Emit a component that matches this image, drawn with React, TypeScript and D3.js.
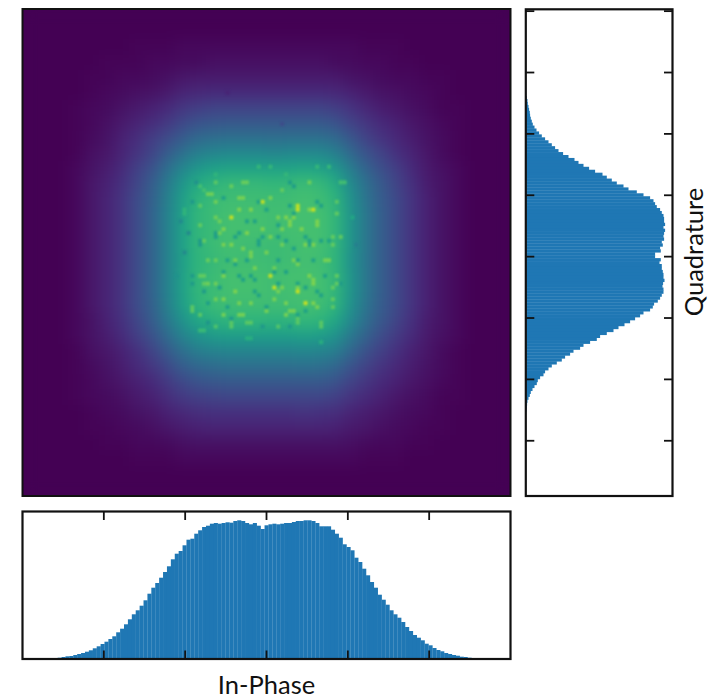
import React from "react";
import * as d3 from "d3";

// In-Phase marginal histogram (125 bins over -3..3), left to right
const inPhaseCounts = [
  0,0,0,0,0,0.2,0.3,0.7,1,1.3,2,2.7,3,4,5,6,7.3,8.7,10.7,12.7,15,17.3,20,22.7,26.7,
  30.3,34.7,39.7,44.7,48.7,53.3,58.7,65.3,71.3,76,81.3,87,92.7,99.7,105.3,108,113.7,119.3,120.3,125.3,
  128.7,132,133.3,135.3,136,135.3,136,136.7,136.3,138,138.7,138,136,134.7,136,133.3,130,133.7,134.7,135.3,
  134.7,135.3,136,136,137,138,138,138.7,138.7,138,136,132.7,132.7,132.7,129.3,125.3,121.3,114.7,112,108.7,
  101.3,97,90.3,83.7,77,71.3,64.3,59.3,54.3,48.7,44.7,41.3,37,32,28,24,21.3,18.7,15.3,13.7,
  11,9,7.7,6,5,4,3.3,2.3,2,1.3,1,0.7,0.3,0.2,0,0,0,0,0,0,
];

// Quadrature marginal histogram (125 bins over 3..-3), top to bottom
const quadratureCounts = [
  0,0,0,0,0,0,0,0.3,1,1.7,2,2.7,3.3,4,4.3,5,6,7,8.7,10.7,13.3,16,19.3,22.7,26,
  29.3,32.7,37.3,42.7,48.7,52.7,57.7,63.3,69.3,76.7,81,86,91,97.7,102.7,111,117.7,124.3,127.7,129.3,
  131,134.3,136,137.7,138.3,138.3,139.3,137.7,139.3,138.3,137.7,138.3,136,137,134.3,135,129.3,129.3,135,133.7,
  136,136,137,137.7,137.7,138.7,137.3,136.7,137.7,137.7,136,134.3,132,128.3,127,124.3,117.7,114.3,109.3,104.3,
  98.7,92.7,87.7,81,74.3,71,64.3,57.7,54.3,47.7,44.3,39.3,36,31,26,22.7,19.3,17.7,14.3,12,
  11,8.7,6.7,5,4,2.7,1.7,1.3,1,0.7,0.3,0.1,0,0,0,0,0,0,0,0,
];

// 2D histogram density read on a coarse 32x32 lattice, in percent of the colour range
const densityGrid: number[][] = [
  [0,0,0,0,0,0,0,0,0,0,0,0,0,0,0,0,0,0,0,0,0,0,0,0,0,0,0,0,0,0,0,0],
  [0,0,0,0,0,0,0,0,0,0,0,0,0,0,0,0,0,0,0,0,0,0,0,0,0,0,0,0,0,0,0,0],
  [0,0,0,0,0,0,0,1,1,1,2,2,2,2,2,2,2,2,2,2,2,2,1,1,1,0,0,0,0,0,0,0],
  [0,0,0,0,0,1,1,1,2,2,3,3,4,4,4,4,4,4,4,4,3,3,2,2,1,1,0,0,0,0,0,0],
  [0,0,0,0,1,1,2,2,3,4,6,7,7,7,7,7,7,7,7,7,7,5,4,3,2,2,1,1,0,0,0,0],
  [0,0,0,0,1,2,3,4,5,7,10,11,12,12,12,12,12,12,12,12,11,9,7,5,4,3,2,1,0,0,0,0],
  [0,0,0,1,2,3,5,7,9,12,16,18,20,20,20,20,20,20,20,20,18,15,11,8,6,4,3,1,1,0,0,0],
  [0,0,0,1,2,4,7,10,13,17,22,26,27,28,28,28,28,28,28,28,26,20,16,12,9,6,4,2,1,0,0,0],
  [0,0,0,1,3,5,9,13,18,23,29,34,36,37,37,37,36,37,37,37,34,27,20,15,11,8,5,3,1,0,0,0],
  [0,0,0,1,4,6,10,15,21,29,37,43,46,47,47,47,46,47,47,47,43,34,26,20,14,10,6,3,1,0,0,0],
  [0,0,0,2,5,8,12,19,26,36,46,53,57,58,58,58,58,58,59,58,53,42,32,24,18,12,7,4,2,0,0,0],
  [0,0,0,2,6,9,14,21,30,41,53,61,65,67,67,67,66,67,68,67,61,48,37,28,20,14,8,5,2,0,0,0],
  [0,0,0,2,6,10,15,23,31,43,56,65,68,69,69,69,69,69,70,69,65,51,39,29,22,15,9,5,2,0,0,0],
  [0,0,0,2,6,10,15,23,32,44,57,66,68,70,70,70,69,70,70,70,66,52,40,30,22,15,9,5,2,0,0,0],
  [0,0,0,2,6,10,15,23,32,44,57,66,68,70,70,70,69,70,70,70,66,52,40,30,22,15,9,5,2,0,0,0],
  [0,0,0,2,6,10,15,23,32,44,57,66,68,70,69,69,68,69,70,70,66,52,40,30,22,15,9,5,2,0,0,0],
  [0,0,0,2,6,10,15,23,32,44,56,65,67,69,69,69,68,69,70,69,65,51,40,30,22,15,9,5,2,0,0,0],
  [0,0,0,2,6,10,15,23,32,44,57,66,68,70,70,70,69,70,70,70,66,52,40,30,22,15,9,5,2,0,0,0],
  [0,0,0,2,6,10,15,23,32,44,57,66,68,70,70,70,69,70,70,70,66,52,40,30,22,15,9,5,2,0,0,0],
  [0,0,0,2,6,10,15,23,31,43,56,65,68,69,69,69,69,69,70,69,65,51,39,29,22,15,9,5,2,0,0,0],
  [0,0,0,2,5,9,14,21,29,40,51,59,63,65,65,65,64,65,66,65,59,47,36,27,20,14,8,5,2,0,0,0],
  [0,0,0,2,5,8,12,18,25,34,44,51,54,55,55,55,55,55,56,55,51,40,31,23,17,12,7,4,2,0,0,0],
  [0,0,0,1,4,6,9,14,20,28,36,42,44,45,45,45,45,45,46,45,42,33,25,19,14,9,6,3,1,0,0,0],
  [0,0,0,1,3,5,8,12,16,22,29,33,35,36,36,36,36,36,37,36,33,26,20,15,11,8,5,3,1,0,0,0],
  [0,0,0,1,2,4,6,9,12,17,22,26,27,28,28,28,28,28,28,28,26,20,16,12,9,6,4,2,1,0,0,0],
  [0,0,0,1,2,3,4,7,9,13,17,19,20,21,21,21,21,21,21,21,19,15,12,9,6,4,3,1,1,0,0,0],
  [0,0,0,0,1,2,3,5,6,9,11,13,14,14,14,14,14,14,15,14,13,10,8,6,4,3,2,1,0,0,0,0],
  [0,0,0,0,1,1,2,3,4,6,8,9,10,10,10,10,10,10,10,10,9,7,6,4,3,2,1,1,0,0,0,0],
  [0,0,0,0,0,1,1,2,2,3,4,5,5,5,5,5,5,5,5,5,5,4,3,2,2,1,1,0,0,0,0,0],
  [0,0,0,0,0,0,0,1,1,1,2,2,2,2,2,2,2,2,2,2,2,2,1,1,1,0,0,0,0,0,0,0],
  [0,0,0,0,0,0,0,0,0,0,0,0,0,0,0,0,0,0,0,0,0,0,0,0,0,0,0,0,0,0,0,0],
  [0,0,0,0,0,0,0,0,0,0,0,0,0,0,0,0,0,0,0,0,0,0,0,0,0,0,0,0,0,0,0,0],
];

// Individual cells of the fine 125x125 histogram seen to stand out: [column, row]
const brightestCells: [number, number][] = [
  [61,49],[70,50],[70,51],[63,68],[64,71],[70,72],[72,75],[74,51],[53,53],
];
const brightCells: [number, number][] = [
  [56,48],[51,56],[50,54],[69,77],[74,69],[70,79],[51,74],[55,75],[54,72],[46,70],[46,68],[39,68],[41,51],[49,49],
  [58,62],[58,63],[75,55],[69,53],[68,54],[76,85],[58,84],[46,82],[76,80],[75,76],[80,70],[79,74],[78,64],[79,60],
  [82,44],[78,40],[75,40],[56,44],[49,42],[47,47],[84,53],[43,77],[49,81],[53,80],[65,72],[64,74],[67,78],[58,80],
  [49,53],[50,57],[45,45],[48,47],[58,51],[49,44],[51,60],[57,44],[53,45],[55,51],[63,48],[73,51],[68,55],[66,46],
  [65,53],[63,58],[73,44],[66,60],[79,58],[49,74],[54,64],[51,68],[45,68],[56,78],[47,64],[51,78],[57,84],[47,70],
  [62,77],[70,71],[66,71],[73,68],[68,77],[76,81],[77,64],[64,66],[74,70],[67,75],[70,65],[79,76],[61,56],[72,60],
  [46,46],[67,42],[81,44],[80,49],[55,48],[41,52],[45,50],[67,53],[75,54],[80,52],[45,55],[57,57],[71,56],[46,59],
  [53,60],[74,60],[81,58],[49,64],[69,64],[80,68],[79,71],[43,76],[58,75],[74,75],[45,78],[55,78],[70,80],[45,82],
  [53,81],[57,80],[65,81],[63,40],[60,40],[49,70],[59,66],[62,62],[66,56],[56,61],
];
const darkCells: [number, number][] = [
  [49,58],[41,62],[51,60],[56,69],[73,59],[66,29],[52,21],[64,67],[61,58],[70,64],[54,65],[59,69],[45,59],[68,44],
  [75,49],[65,55],[69,61],[76,59],[51,67],[59,54],[43,49],[57,54],[49,57],[54,58],[45,60],[42,57],[60,59],[69,52],
  [80,49],[72,58],[76,50],[69,45],[65,58],[62,51],[73,60],[43,70],[50,71],[58,68],[52,76],[46,72],[55,68],[47,80],
  [60,73],[70,70],[65,70],[76,73],[67,67],[72,71],[81,70],[70,78],[77,68],
  [44,44],[51,48],[60,49],[68,50],[40,54],[55,57],[60,60],[67,59],[78,59],[85,60],[52,64],[57,64],[65,64],[74,64],
  [43,68],[59,72],[75,72],[47,75],[62,76],[72,77],[53,79],[68,81],[61,81],
];

const iTicks = [-2, -1, 0, 1, 2];
const qTicks = [-3, -2, -1, 0, 1, 2, 3, 4];
const binEdges = d3.range(126).map((i) => -3 + (i * 6) / 125);
const gridEdges = d3.range(33).map((i) => -3 + (i * 6) / 32);

const FRAME = "#111";
const BAR = "#1f77b4";
const FONT = "Lato, 'Open Sans', sans-serif";

export default function App() {
  const main = { x0: 22.5, x1: 510.5, y0: 9, y1: 496 };
  const bot = { x0: 22.5, x1: 510.5, y0: 511.5, y1: 659 };
  const side = { x0: 525.8, x1: 672.5, y0: 9.3, y1: 496 };

  const xHeat = d3.scaleLinear().domain([-3, 3]).range([main.x0, main.x1]);
  const yHeat = d3.scaleLinear().domain([3, -3]).range([main.y0, main.y1]);
  const xBot = d3.scaleLinear().domain([-3, 3]).range([bot.x0, bot.x1]);
  const yBot = d3.scaleLinear().domain([0, 147.5]).range([bot.y1, bot.y0]);
  const ySide = d3.scaleLinear().domain([4.03, -3.9]).range([side.y0, side.y1]);
  const xSide = d3.scaleLinear().domain([0, 146.7]).range([side.x0, side.x1]);
  const color = d3.scaleSequential(d3.interpolateViridis).domain([0, 100]);

  const baseAt = (c: number, r: number) => densityGrid[Math.floor((r * 32) / 125)][Math.floor((c * 32) / 125)];
  const fineCell = (c: number, r: number, ratio: number, i: number) => (
    <rect
      key={`${ratio}-${i}`}
      x={xHeat(binEdges[c])}
      y={yHeat(-binEdges[r])}
      width={xHeat(binEdges[c + 1]) - xHeat(binEdges[c])}
      height={yHeat(-binEdges[r + 1]) - yHeat(-binEdges[r])}
      fill={color(baseAt(c, r) * ratio)}
    />
  );

  return (
    <svg
      width={715}
      height={699}
      viewBox="0 0 715 699"
      style={{ position: "absolute", left: 0, top: 0, display: "block", background: "#fff" }}
    >
      <defs>
        <clipPath id="heatClip">
          <rect x={main.x0} y={main.y0} width={main.x1 - main.x0} height={main.y1 - main.y0} />
        </clipPath>
        <filter id="smooth" x="-5%" y="-5%" width="110%" height="110%" colorInterpolationFilters="sRGB">
          <feGaussianBlur stdDeviation={7} />
        </filter>
        <filter id="soft" x="-5%" y="-5%" width="110%" height="110%" colorInterpolationFilters="sRGB">
          <feGaussianBlur stdDeviation={0.9} />
        </filter>
      </defs>

      <g clipPath="url(#heatClip)">
        <rect x={main.x0} y={main.y0} width={main.x1 - main.x0} height={main.y1 - main.y0} fill={color(0)} />
        <g filter="url(#smooth)" shapeRendering="crispEdges">
          {densityGrid.map((row, r) =>
            row.map((v, c) => (
              <rect
                key={`${c}-${r}`}
                x={xHeat(gridEdges[c])}
                y={yHeat(-gridEdges[r])}
                width={xHeat(gridEdges[c + 1]) - xHeat(gridEdges[c]) + 0.5}
                height={yHeat(-gridEdges[r + 1]) - yHeat(-gridEdges[r]) + 0.5}
                fill={color(v)}
              />
            ))
          )}
        </g>
        <g filter="url(#soft)">
          {darkCells.map(([c, r], i) => fineCell(c, r, 0.82, i))}
          {brightCells.map(([c, r], i) => fineCell(c, r, 1.15, i))}
          {brightestCells.map(([c, r], i) => fineCell(c, r, 1.32, i))}
        </g>
      </g>
      <rect x={main.x0} y={main.y0} width={main.x1 - main.x0} height={main.y1 - main.y0} fill="none" stroke={FRAME} strokeWidth={2} />

      {/* In-Phase histogram */}
      {inPhaseCounts.map((v, i) => (
        <rect key={i} x={xBot(binEdges[i])} y={yBot(v)} width={xBot(binEdges[i + 1]) - xBot(binEdges[i]) + 0.2} height={yBot(0) - yBot(v)} fill={BAR} />
      ))}
      <rect x={bot.x0} y={bot.y0} width={bot.x1 - bot.x0} height={bot.y1 - bot.y0} fill="none" stroke={FRAME} strokeWidth={2.2} />
      {iTicks.map((t) => (
        <g key={t} stroke={FRAME} strokeWidth={1.8}>
          <line x1={xBot(t)} x2={xBot(t)} y1={bot.y0} y2={bot.y0 + 8.5} />
          <line x1={xBot(t)} x2={xBot(t)} y1={bot.y1} y2={bot.y1 - 8.5} />
        </g>
      ))}

      {/* Quadrature histogram */}
      {quadratureCounts.map((v, i) => {
        const top = ySide(-binEdges[i]);
        const bottom = ySide(-binEdges[i + 1]);
        return <rect key={i} x={xSide(0)} y={top} width={xSide(v) - xSide(0)} height={bottom - top + 0.35} fill={BAR} />;
      })}
      <rect x={side.x0} y={side.y0} width={side.x1 - side.x0} height={side.y1 - side.y0} fill="none" stroke={FRAME} strokeWidth={2.2} />
      {qTicks.map((t) => (
        <g key={t} stroke={FRAME} strokeWidth={1.8}>
          <line x1={side.x0} x2={side.x0 + 8.5} y1={ySide(t)} y2={ySide(t)} />
          <line x1={side.x1} x2={side.x1 - 8.5} y1={ySide(t)} y2={ySide(t)} />
        </g>
      ))}

      <text x={266.5} y={693.5} textAnchor="middle" fontFamily={FONT} fontSize={25.5} fill="#111">In-Phase</text>
      <text transform="translate(703,252) rotate(-90)" textAnchor="middle" fontFamily={FONT} fontSize={25.5} fill="#111">Quadrature</text>
    </svg>
  );
}
